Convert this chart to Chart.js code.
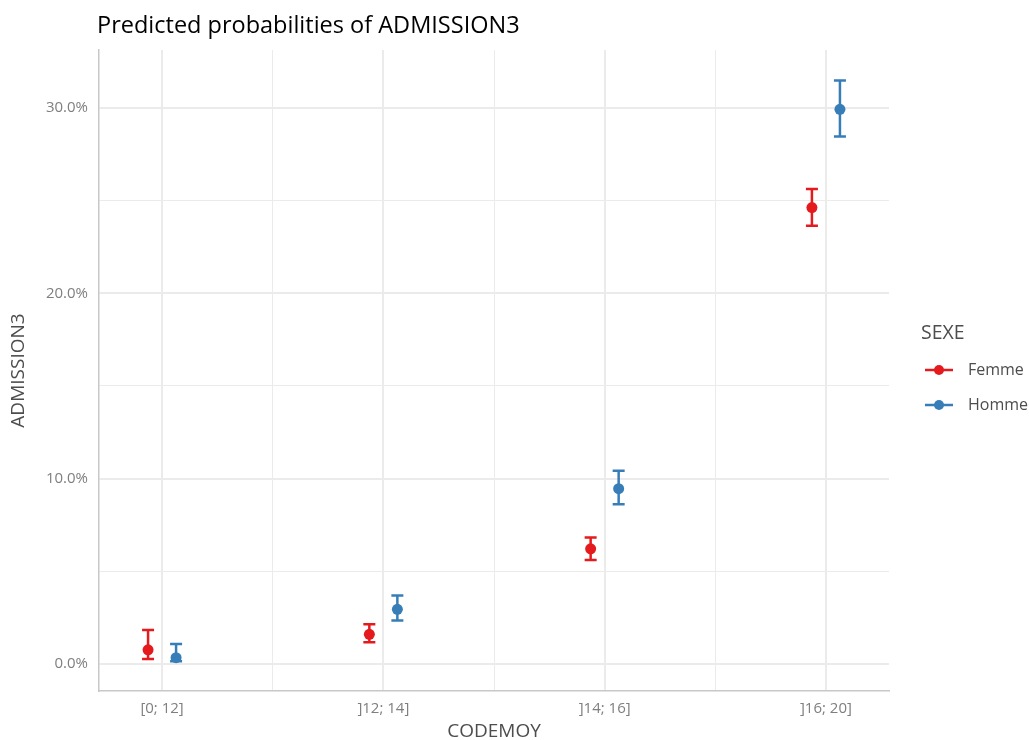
<!DOCTYPE html>
<html>
<head>
<meta charset="utf-8">
<script src="https://cdn.jsdelivr.net/npm/chart.js@4.4.1/dist/chart.umd.min.js"></script>
<style>
  body { margin: 0; background: #ffffff; }
  #wrap { width: 1029px; height: 740px; }
</style>
</head>
<body>
<div id="wrap"><canvas id="myChart" width="1029" height="740"></canvas></div>
<script>
// categories and predicted values (percent)
const categories = ["[0; 12]", "]12; 14]", "]14; 16]", "]16; 20]"];
const femme = [0.76, 1.60, 6.21, 24.63];
const femmeLow = [0.27, 1.17, 5.61, 23.64];
const femmeHigh = [1.83, 2.14, 6.82, 25.63];
const homme = [0.34, 2.95, 9.46, 29.93];
const hommeLow = [0.15, 2.34, 8.62, 28.46];
const hommeHigh = [1.08, 3.69, 10.43, 31.48];
const yTicks = [0, 5, 10, 15, 20, 25, 30];
const xTicks = [1, 1.5, 2, 2.5, 3, 3.5, 4];

const RED = "#E41A1C";
const BLUE = "#377EB8";
const FONT = "'Open Sans', 'Noto Sans', sans-serif";
const DODGE = 0.0633;

function points(values, shift) {
  return values.map((v, i) => ({ x: i + 1 + shift, y: v }));
}

const series = [
  { label: "Femme", color: RED, low: femmeLow, high: femmeHigh, shift: -DODGE },
  { label: "Homme", color: BLUE, low: hommeLow, high: hommeHigh, shift: DODGE },
];

// error bars, drawn under the points
const errorBars = {
  id: "errorBars",
  beforeDatasetsDraw(chart) {
    const ctx = chart.ctx;
    const xs = chart.scales.x;
    const ys = chart.scales.y;
    ctx.save();
    series.forEach((s) => {
      ctx.strokeStyle = s.color;
      ctx.lineWidth = 2.5;
      s.low.forEach((lo, i) => {
        const x = xs.getPixelForValue(i + 1 + s.shift);
        const y1 = ys.getPixelForValue(lo);
        const y2 = ys.getPixelForValue(s.high[i]);
        ctx.beginPath();
        ctx.moveTo(x, y1);
        ctx.lineTo(x, y2);
        ctx.moveTo(x - 6, y1);
        ctx.lineTo(x + 6, y1);
        ctx.moveTo(x - 6, y2);
        ctx.lineTo(x + 6, y2);
        ctx.stroke();
      });
    });
    ctx.restore();
  },
};

// title and ggplot-like legend
const decorations = {
  id: "decorations",
  afterDraw(chart) {
    const ctx = chart.ctx;
    ctx.save();
    ctx.fillStyle = "#000000";
    ctx.font = "23.5px " + FONT;
    ctx.textAlign = "left";
    ctx.textBaseline = "alphabetic";
    ctx.fillText("Predicted probabilities of ADMISSION3", 97, 33);

    ctx.fillStyle = "#4d4d4d";
    ctx.font = "19.5px " + FONT;
    ctx.textBaseline = "middle";
    ctx.fillText("SEXE", 921, 333);

    ctx.font = "16px " + FONT;
    series.forEach((s, i) => {
      const y = 370 + i * 35;
      ctx.strokeStyle = s.color;
      ctx.lineWidth = 2.5;
      ctx.beginPath();
      ctx.moveTo(925, y);
      ctx.lineTo(953, y);
      ctx.stroke();
      ctx.fillStyle = s.color;
      ctx.beginPath();
      ctx.arc(939, y, 5, 0, Math.PI * 2);
      ctx.fill();
      ctx.fillStyle = "#4d4d4d";
      ctx.fillText(s.label, 968, y);
    });
    ctx.restore();
  },
};

const ctx = document.getElementById("myChart").getContext("2d");
new Chart(ctx, {
  type: "scatter",
  data: {
    datasets: series.map((s, k) => ({
      label: s.label,
      data: points(k === 0 ? femme : homme, s.shift),
      backgroundColor: s.color,
      borderColor: s.color,
      pointRadius: 5.5,
      pointHoverRadius: 5.5,
      borderWidth: 0,
    })),
  },
  options: {
    responsive: false,
    animation: false,
    layout: { padding: { top: 50, right: 140, left: 0, bottom: 0 } },
    plugins: {
      legend: { display: false },
      title: { display: false },
      tooltip: { enabled: false },
    },
    scales: {
      x: {
        type: "linear",
        min: 0.715,
        max: 4.285,
        afterBuildTicks: (scale) => {
          scale.ticks = xTicks.map((v) => ({ value: v }));
        },
        afterFit: (scale) => {
          scale.height = 49;
        },
        ticks: {
          autoSkip: false,
          maxRotation: 0,
          padding: 9,
          color: "#7f7f7f",
          font: { family: FONT, size: 15 },
          callback: (v) => (Number.isInteger(v) ? categories[v - 1] : ""),
        },
        grid: {
          drawTicks: false,
          color: "#ebebeb",
          lineWidth: (c) => (c.tick && Number.isInteger(c.tick.value) ? 2 : 1),
        },
        border: { display: true, color: "#c8c8c8", width: 1.5 },
        title: {
          display: true,
          text: "CODEMOY",
          color: "#4d4d4d",
          font: { family: FONT, size: 19 },
          padding: { top: 0, bottom: -3.4 },
        },
      },
      y: {
        min: -1.46,
        max: 33.13,
        afterBuildTicks: (scale) => {
          scale.ticks = yTicks.map((v) => ({ value: v }));
        },
        afterFit: (scale) => {
          scale.width = 99;
        },
        ticks: {
          padding: 11,
          color: "#7f7f7f",
          font: { family: FONT, size: 15 },
          callback: (v) => (v % 10 === 0 ? v.toFixed(1) + "%" : ""),
        },
        grid: {
          drawTicks: false,
          color: "#ebebeb",
          lineWidth: (c) => (c.tick && c.tick.value % 10 === 0 ? 2 : 1),
        },
        border: { display: true, color: "#c8c8c8", width: 1.5 },
        title: {
          display: true,
          text: "ADMISSION3",
          color: "#4d4d4d",
          font: { family: FONT, size: 19 },
          padding: { top: 7.6, bottom: 0 },
        },
      },
    },
  },
  plugins: [errorBars, decorations],
});
</script>
</body>
</html>
